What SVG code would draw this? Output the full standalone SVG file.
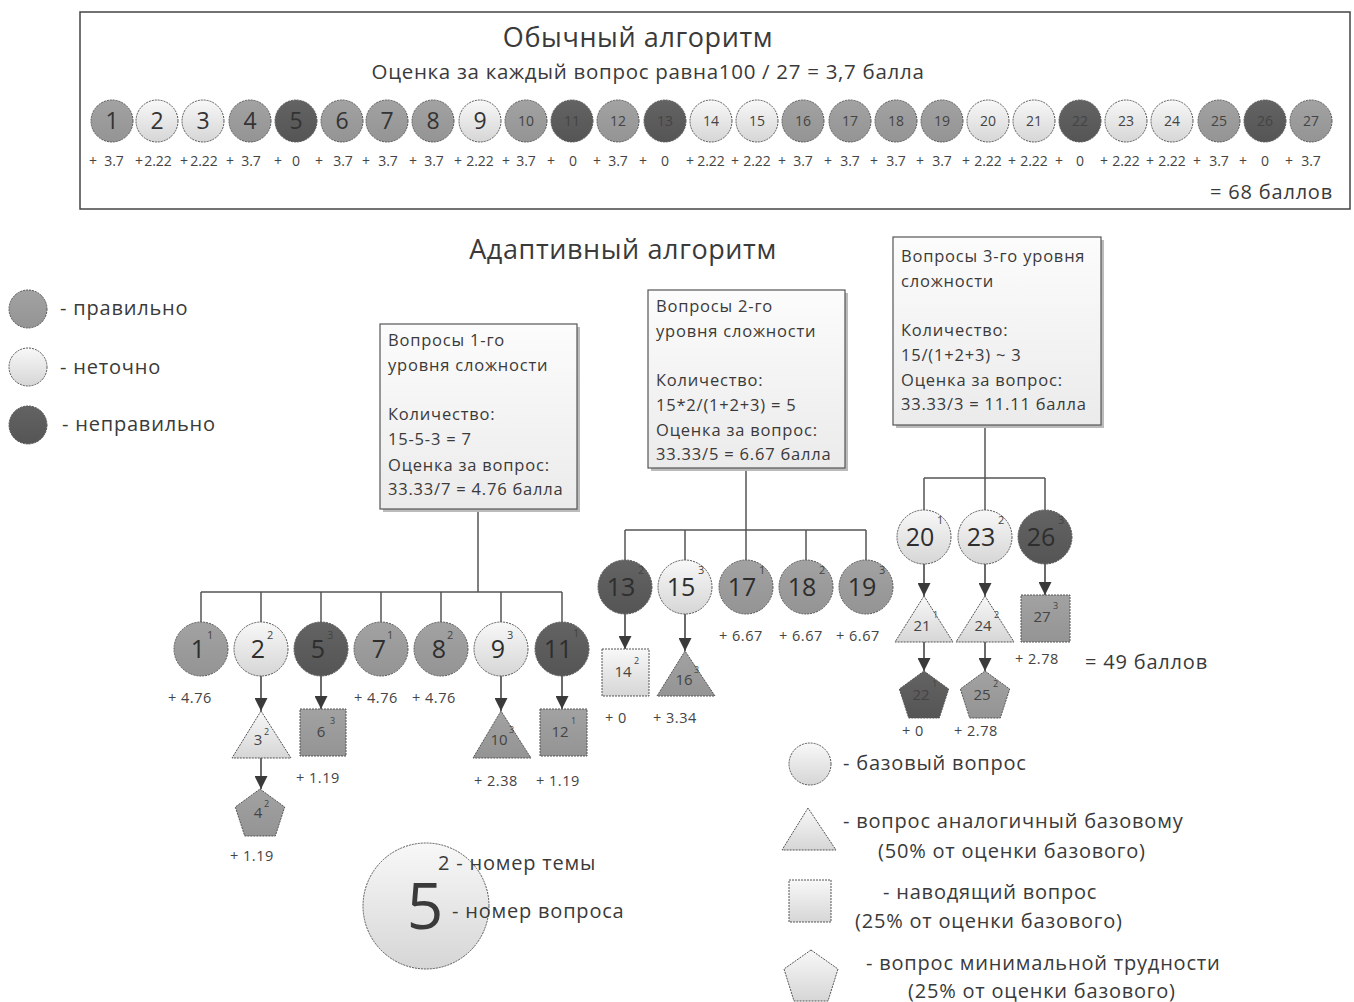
<svg xmlns="http://www.w3.org/2000/svg" width="1354" height="1002" viewBox="0 0 1354 1002">
<defs>
<linearGradient id="gLight" x1="0" y1="0" x2="0" y2="1"><stop offset="0" stop-color="#f8f8f8"/><stop offset="1" stop-color="#d6d6d6"/></linearGradient>
<linearGradient id="gMid" x1="0" y1="0" x2="0" y2="1"><stop offset="0" stop-color="#a2a2a2"/><stop offset="1" stop-color="#949494"/></linearGradient>
<linearGradient id="gDark" x1="0" y1="0" x2="0" y2="1"><stop offset="0" stop-color="#636363"/><stop offset="1" stop-color="#555555"/></linearGradient>
<linearGradient id="gBox" x1="0" y1="0" x2="0" y2="1"><stop offset="0" stop-color="#fcfcfc"/><stop offset="1" stop-color="#ebebeb"/></linearGradient>
<marker id="arr" markerUnits="userSpaceOnUse" markerWidth="13" markerHeight="13" viewBox="0 0 10 10" refX="10" refY="5" orient="auto"><path d="M0,0 L10,5 L0,10 z" fill="#3a3a3a"/></marker>
<polygon id="pent" points="0,-26 24.7,-8 15.3,21 -15.3,21 -24.7,-8"/>
</defs>
<style>
text{font-family:"Open Sans","Noto Sans","DejaVu Sans",sans-serif;fill:#3a3a3a}
.sh{stroke:#555;stroke-width:1;stroke-dasharray:2 1}
.l{fill:url(#gLight)}
.m{fill:url(#gMid)}
.d{fill:url(#gDark)}
.n1{font-size:23px;text-anchor:middle;fill:#333}
.n2{font-size:14px;text-anchor:middle;fill:#444}
.sc{font-size:14px;text-anchor:middle;fill:#444}
.tn{font-size:25px;text-anchor:middle;fill:#2e2e2e}
.sup{font-size:11px;fill:#444}
.sn{font-size:15px;text-anchor:middle;fill:#444}
.ssup{font-size:9px;fill:#444}
.ts{font-size:14.5px;fill:#444;letter-spacing:0.5px}
.bx{fill:url(#gBox);stroke:#555;stroke-width:1.2}
.bt{font-size:16.5px;fill:#3a3a3a;letter-spacing:0.8px}
.lg{font-size:20px;fill:#3a3a3a;letter-spacing:0.8px}
.hd{font-size:27px;text-anchor:middle;letter-spacing:0.6px}
.cn{stroke:#555;stroke-width:1.5;fill:none}
.ar{stroke:#3a3a3a;stroke-width:1.5;fill:none;marker-end:url(#arr)}
</style>
<rect width="1354" height="1002" fill="#fff"/>

<g id="classic">
<rect x="80" y="12" width="1270" height="197" fill="#fff" stroke="#444" stroke-width="1.5"/>
<text x="638" y="47" class="hd">Обычный алгоритм</text>
<text x="648" y="79" font-size="20.5" text-anchor="middle" letter-spacing="0.7">Оценка за каждый вопрос равна100 / 27 = 3,7 балла</text>
<g id="q1"><circle cx="112" cy="121" r="21" class="m sh"/><text x="112" y="129" class="n1">1</text></g>
<g id="q2"><circle cx="157" cy="121" r="21" class="l sh"/><text x="157" y="129" class="n1">2</text></g>
<g id="q3"><circle cx="203" cy="121" r="21" class="l sh"/><text x="203" y="129" class="n1">3</text></g>
<g id="q4"><circle cx="250" cy="121" r="21" class="m sh"/><text x="250" y="129" class="n1">4</text></g>
<g id="q5"><circle cx="296" cy="121" r="21" class="d sh"/><text x="296" y="129" class="n1">5</text></g>
<g id="q6"><circle cx="342" cy="121" r="21" class="m sh"/><text x="342" y="129" class="n1">6</text></g>
<g id="q7"><circle cx="387" cy="121" r="21" class="m sh"/><text x="387" y="129" class="n1">7</text></g>
<g id="q8"><circle cx="433" cy="121" r="21" class="m sh"/><text x="433" y="129" class="n1">8</text></g>
<g id="q9"><circle cx="480" cy="121" r="21" class="l sh"/><text x="480" y="129" class="n1">9</text></g>
<g id="q10"><circle cx="526" cy="121" r="21" class="m sh"/><text x="526" y="126" class="n2">10</text></g>
<g id="q11"><circle cx="572" cy="121" r="21" class="d sh"/><text x="572" y="126" class="n2">11</text></g>
<g id="q12"><circle cx="618" cy="121" r="21" class="m sh"/><text x="618" y="126" class="n2">12</text></g>
<g id="q13"><circle cx="665" cy="121" r="21" class="d sh"/><text x="665" y="126" class="n2">13</text></g>
<g id="q14"><circle cx="711" cy="121" r="21" class="l sh"/><text x="711" y="126" class="n2">14</text></g>
<g id="q15"><circle cx="757" cy="121" r="21" class="l sh"/><text x="757" y="126" class="n2">15</text></g>
<g id="q16"><circle cx="803" cy="121" r="21" class="m sh"/><text x="803" y="126" class="n2">16</text></g>
<g id="q17"><circle cx="850" cy="121" r="21" class="m sh"/><text x="850" y="126" class="n2">17</text></g>
<g id="q18"><circle cx="896" cy="121" r="21" class="m sh"/><text x="896" y="126" class="n2">18</text></g>
<g id="q19"><circle cx="942" cy="121" r="21" class="m sh"/><text x="942" y="126" class="n2">19</text></g>
<g id="q20"><circle cx="988" cy="121" r="21" class="l sh"/><text x="988" y="126" class="n2">20</text></g>
<g id="q21"><circle cx="1034" cy="121" r="21" class="l sh"/><text x="1034" y="126" class="n2">21</text></g>
<g id="q22"><circle cx="1080" cy="121" r="21" class="d sh"/><text x="1080" y="126" class="n2">22</text></g>
<g id="q23"><circle cx="1126" cy="121" r="21" class="l sh"/><text x="1126" y="126" class="n2">23</text></g>
<g id="q24"><circle cx="1172" cy="121" r="21" class="l sh"/><text x="1172" y="126" class="n2">24</text></g>
<g id="q25"><circle cx="1219" cy="121" r="21" class="m sh"/><text x="1219" y="126" class="n2">25</text></g>
<g id="q26"><circle cx="1265" cy="121" r="21" class="d sh"/><text x="1265" y="126" class="n2">26</text></g>
<g id="q27"><circle cx="1311" cy="121" r="21" class="m sh"/><text x="1311" y="126" class="n2">27</text></g>
<g id="scores">
<text x="93" y="166" class="sc">+</text><text x="114" y="166" class="sc">3.7</text>
<text x="139" y="166" class="sc">+</text><text x="158" y="166" class="sc">2.22</text>
<text x="184" y="166" class="sc">+</text><text x="204" y="166" class="sc">2.22</text>
<text x="230" y="166" class="sc">+</text><text x="251" y="166" class="sc">3.7</text>
<text x="278" y="166" class="sc">+</text><text x="296" y="166" class="sc">0</text>
<text x="319" y="166" class="sc">+</text><text x="343" y="166" class="sc">3.7</text>
<text x="366" y="166" class="sc">+</text><text x="388" y="166" class="sc">3.7</text>
<text x="413" y="166" class="sc">+</text><text x="434" y="166" class="sc">3.7</text>
<text x="458" y="166" class="sc">+</text><text x="480" y="166" class="sc">2.22</text>
<text x="506" y="166" class="sc">+</text><text x="526" y="166" class="sc">3.7</text>
<text x="551" y="166" class="sc">+</text><text x="573" y="166" class="sc">0</text>
<text x="597" y="166" class="sc">+</text><text x="618" y="166" class="sc">3.7</text>
<text x="643" y="166" class="sc">+</text><text x="665" y="166" class="sc">0</text>
<text x="690" y="166" class="sc">+</text><text x="711" y="166" class="sc">2.22</text>
<text x="735" y="166" class="sc">+</text><text x="757" y="166" class="sc">2.22</text>
<text x="782" y="166" class="sc">+</text><text x="803" y="166" class="sc">3.7</text>
<text x="828" y="166" class="sc">+</text><text x="850" y="166" class="sc">3.7</text>
<text x="874" y="166" class="sc">+</text><text x="896" y="166" class="sc">3.7</text>
<text x="920" y="166" class="sc">+</text><text x="942" y="166" class="sc">3.7</text>
<text x="966" y="166" class="sc">+</text><text x="988" y="166" class="sc">2.22</text>
<text x="1012" y="166" class="sc">+</text><text x="1034" y="166" class="sc">2.22</text>
<text x="1059" y="166" class="sc">+</text><text x="1080" y="166" class="sc">0</text>
<text x="1104" y="166" class="sc">+</text><text x="1126" y="166" class="sc">2.22</text>
<text x="1150" y="166" class="sc">+</text><text x="1172" y="166" class="sc">2.22</text>
<text x="1197" y="166" class="sc">+</text><text x="1219" y="166" class="sc">3.7</text>
<text x="1243" y="166" class="sc">+</text><text x="1265" y="166" class="sc">0</text>
<text x="1289" y="166" class="sc">+</text><text x="1311" y="166" class="sc">3.7</text>
</g>
<text x="1333" y="199" font-size="20" text-anchor="end" letter-spacing="0.8">= 68 баллов</text>
</g>

<text x="623" y="259" class="hd">Адаптивный алгоритм</text>

<g id="legend-colors">
<circle cx="28" cy="309" r="19" class="m sh"/><text x="60" y="315" class="lg">- правильно</text>
<circle cx="28" cy="367" r="19" class="l sh"/><text x="60" y="374" class="lg">- неточно</text>
<circle cx="28" cy="425" r="19" class="d sh"/><text x="62" y="431" class="lg">- неправильно</text>
</g>

<g id="connectors">
<line x1="478" y1="509" x2="478" y2="592" class="cn"/>
<line x1="201" y1="592" x2="562" y2="592" class="cn"/>
<line x1="201" y1="592" x2="201" y2="622" class="cn"/>
<line x1="261" y1="592" x2="261" y2="622" class="cn"/>
<line x1="321" y1="592" x2="321" y2="622" class="cn"/>
<line x1="381" y1="592" x2="381" y2="622" class="cn"/>
<line x1="441" y1="592" x2="441" y2="622" class="cn"/>
<line x1="501" y1="592" x2="501" y2="622" class="cn"/>
<line x1="562" y1="592" x2="562" y2="622" class="cn"/>
<line x1="261" y1="676" x2="261" y2="711" class="ar"/>
<line x1="321" y1="676" x2="321" y2="709" class="ar"/>
<line x1="501" y1="676" x2="501" y2="711" class="ar"/>
<line x1="562" y1="676" x2="562" y2="709" class="ar"/>
<line x1="261" y1="758" x2="261" y2="789" class="ar"/>
<line x1="746" y1="468" x2="746" y2="530" class="cn"/>
<line x1="625" y1="530" x2="866" y2="530" class="cn"/>
<line x1="625" y1="530" x2="625" y2="560" class="cn"/>
<line x1="685" y1="530" x2="685" y2="560" class="cn"/>
<line x1="746" y1="530" x2="746" y2="560" class="cn"/>
<line x1="806" y1="530" x2="806" y2="560" class="cn"/>
<line x1="866" y1="530" x2="866" y2="560" class="cn"/>
<line x1="625" y1="614" x2="625" y2="649" class="ar"/>
<line x1="685" y1="614" x2="685" y2="651" class="ar"/>
<line x1="985" y1="425" x2="985" y2="478" class="cn"/>
<line x1="924" y1="478" x2="1045" y2="478" class="cn"/>
<line x1="924" y1="478" x2="924" y2="510" class="cn"/>
<line x1="985" y1="478" x2="985" y2="510" class="cn"/>
<line x1="1045" y1="478" x2="1045" y2="510" class="cn"/>
<line x1="924" y1="564" x2="924" y2="596" class="ar"/>
<line x1="985" y1="564" x2="985" y2="596" class="ar"/>
<line x1="1045" y1="564" x2="1045" y2="595" class="ar"/>
<line x1="924" y1="642" x2="924" y2="671" class="ar"/>
<line x1="985" y1="642" x2="985" y2="671" class="ar"/>
</g>

<g id="box1">
<rect x="383" y="327" width="197" height="185" fill="#bbb"/>
<rect x="380" y="324" width="197" height="185" class="bx"/>
<text x="388" y="346" class="bt">Вопросы 1-го</text>
<text x="388" y="371" class="bt">уровня сложности</text>
<text x="388" y="420" class="bt">Количество:</text>
<text x="388" y="445" class="bt">15-5-3 = 7</text>
<text x="388" y="471" class="bt">Оценка за вопрос:</text>
<text x="388" y="495" class="bt">33.33/7 = 4.76 балла</text>
</g>
<g id="box2">
<rect x="651" y="293" width="197" height="178" fill="#bbb"/>
<rect x="648" y="290" width="197" height="178" class="bx"/>
<text x="656" y="312" class="bt">Вопросы 2-го</text>
<text x="656" y="337" class="bt">уровня сложности</text>
<text x="656" y="386" class="bt">Количество:</text>
<text x="656" y="411" class="bt">15*2/(1+2+3) = 5</text>
<text x="656" y="436" class="bt">Оценка за вопрос:</text>
<text x="656" y="460" class="bt">33.33/5 = 6.67 балла</text>
</g>
<g id="box3">
<rect x="896" y="240" width="208" height="188" fill="#bbb"/>
<rect x="893" y="237" width="208" height="188" class="bx"/>
<text x="901" y="262" class="bt">Вопросы 3-го уровня</text>
<text x="901" y="287" class="bt">сложности</text>
<text x="901" y="336" class="bt">Количество:</text>
<text x="901" y="361" class="bt">15/(1+2+3) ~ 3</text>
<text x="901" y="386" class="bt">Оценка за вопрос:</text>
<text x="901" y="410" class="bt">33.33/3 = 11.11 балла</text>
</g>

<g id="t1">
<g id="a1"><circle cx="201" cy="649" r="27" class="m sh"/><text x="198" y="658" class="tn">1</text><text x="207" y="639" class="sup">1</text></g>
<g id="a2"><circle cx="261" cy="649" r="27" class="l sh"/><text x="258" y="658" class="tn">2</text><text x="267" y="639" class="sup">2</text></g>
<g id="a5"><circle cx="321" cy="649" r="27" class="d sh"/><text x="318" y="658" class="tn">5</text><text x="327" y="639" class="sup">3</text></g>
<g id="a7"><circle cx="381" cy="649" r="27" class="m sh"/><text x="379" y="658" class="tn">7</text><text x="387" y="639" class="sup">1</text></g>
<g id="a8"><circle cx="441" cy="649" r="27" class="m sh"/><text x="439" y="658" class="tn">8</text><text x="447" y="639" class="sup">2</text></g>
<g id="a9"><circle cx="501" cy="649" r="27" class="l sh"/><text x="498" y="658" class="tn">9</text><text x="507" y="639" class="sup">3</text></g>
<g id="a11"><circle cx="562" cy="649" r="27" class="d sh"/><text x="558" y="658" class="tn">11</text><text x="573" y="637" class="sup">1</text></g>
<text x="168" y="703" class="ts">+  4.76</text>
<text x="354" y="703" class="ts">+ 4.76</text>
<text x="412" y="703" class="ts">+ 4.76</text>
<g id="a3"><polygon points="261,711 232,758 291,758" class="l sh"/><text x="258" y="745" class="sn">3</text><text x="264" y="735" class="ssup">2</text></g>
<g id="a4"><use href="#pent" x="260" y="815" class="m sh"/><text x="258" y="818" class="sn">4</text><text x="264" y="807" class="ssup">2</text></g>
<text x="230" y="861" class="ts">+ 1.19</text>
<g id="a6"><rect x="300" y="709" width="46" height="47" class="m sh"/><text x="321" y="737" class="sn">6</text><text x="330" y="724" class="ssup">3</text></g>
<text x="296" y="783" class="ts">+ 1.19</text>
<g id="a10"><polygon points="501,711 473,758 531,758" class="m sh"/><text x="499" y="745" class="sn">10</text><text x="509" y="733" class="ssup">3</text></g>
<text x="474" y="786" class="ts">+ 2.38</text>
<g id="a12"><rect x="540" y="709" width="47" height="47" class="m sh"/><text x="560" y="737" class="sn">12</text><text x="571" y="724" class="ssup">1</text></g>
<text x="536" y="786" class="ts">+ 1.19</text>
</g>

<g id="t2">
<g id="b13"><circle cx="625" cy="587" r="27" class="d sh"/><text x="621" y="596" class="tn">13</text><text x="638" y="574" class="sup">2</text></g>
<g id="b15"><circle cx="685" cy="587" r="27" class="l sh"/><text x="681" y="596" class="tn">15</text><text x="698" y="574" class="sup">3</text></g>
<g id="b17"><circle cx="746" cy="587" r="27" class="m sh"/><text x="742" y="596" class="tn">17</text><text x="759" y="574" class="sup">1</text></g>
<g id="b18"><circle cx="806" cy="587" r="27" class="m sh"/><text x="802" y="596" class="tn">18</text><text x="819" y="574" class="sup">2</text></g>
<g id="b19"><circle cx="866" cy="587" r="27" class="m sh"/><text x="862" y="596" class="tn">19</text><text x="879" y="574" class="sup">3</text></g>
<text x="719" y="641" class="ts">+ 6.67</text>
<text x="779" y="641" class="ts">+ 6.67</text>
<text x="836" y="641" class="ts">+ 6.67</text>
<g id="b14"><rect x="602" y="649" width="47" height="47" class="l sh"/><text x="623" y="677" class="sn">14</text><text x="634" y="664" class="ssup">2</text></g>
<text x="605" y="723" class="ts">+  0</text>
<g id="b16"><polygon points="685,651 657,696 715,696" class="m sh"/><text x="684" y="685" class="sn">16</text><text x="694" y="673" class="ssup">3</text></g>
<text x="653" y="723" class="ts">+  3.34</text>
</g>

<g id="t3">
<g id="c20"><circle cx="924" cy="537" r="27" class="l sh"/><text x="920" y="546" class="tn">20</text><text x="937" y="524" class="sup">1</text></g>
<g id="c23"><circle cx="985" cy="537" r="27" class="l sh"/><text x="981" y="546" class="tn">23</text><text x="998" y="524" class="sup">2</text></g>
<g id="c26"><circle cx="1045" cy="537" r="27" class="d sh"/><text x="1041" y="546" class="tn">26</text><text x="1058" y="524" class="sup">3</text></g>
<g id="c21"><polygon points="924,596 895,642 953,642" class="l sh"/><text x="922" y="631" class="sn">21</text><text x="933" y="618" class="ssup">1</text></g>
<g id="c24"><polygon points="985,596 956,642 1014,642" class="l sh"/><text x="983" y="631" class="sn">24</text><text x="994" y="618" class="ssup">2</text></g>
<g id="c27"><rect x="1021" y="595" width="49" height="47" class="m sh"/><text x="1042" y="622" class="sn">27</text><text x="1053" y="609" class="ssup">3</text></g>
<text x="1015" y="664" class="ts">+  2.78</text>
<g id="c22"><use href="#pent" x="924" y="697" class="d sh"/><text x="921" y="700" class="sn">22</text><text x="932" y="687" class="ssup">1</text></g>
<g id="c25"><use href="#pent" x="985" y="697" class="m sh"/><text x="982" y="700" class="sn">25</text><text x="993" y="687" class="ssup">2</text></g>
<text x="902" y="736" class="ts">+  0</text>
<text x="954" y="736" class="ts">+  2.78</text>
<text x="1085" y="669" font-size="20" letter-spacing="0.8">= 49 баллов</text>
</g>

<g id="legend-number">
<circle cx="426" cy="906" r="63" class="l sh"/>
<text x="425" y="929" font-size="64" text-anchor="middle" fill="#222">5</text>
<text x="438" y="870" class="lg">2 - номер темы</text>
<text x="452" y="918" class="lg">- номер вопроса</text>
</g>

<g id="legend-shapes">
<circle cx="810" cy="764" r="21" class="l sh"/>
<text x="843" y="770" class="lg">- базовый вопрос</text>
<polygon points="808,808 782,850 836,850" class="l sh"/>
<text x="843" y="828" class="lg">- вопрос аналогичный базовому</text>
<text x="878" y="858" class="lg">(50% от оценки базового)</text>
<rect x="789" y="880" width="42" height="42" class="l sh"/>
<text x="883" y="899" class="lg">- наводящий вопрос</text>
<text x="855" y="928" class="lg">(25% от оценки базового)</text>
<polygon points="811,950 838,969 828,1001 794,1001 784,969" class="l sh"/>
<text x="866" y="970" class="lg">- вопрос минимальной трудности</text>
<text x="908" y="998" class="lg">(25% от оценки базового)</text>
</g>
</svg>
